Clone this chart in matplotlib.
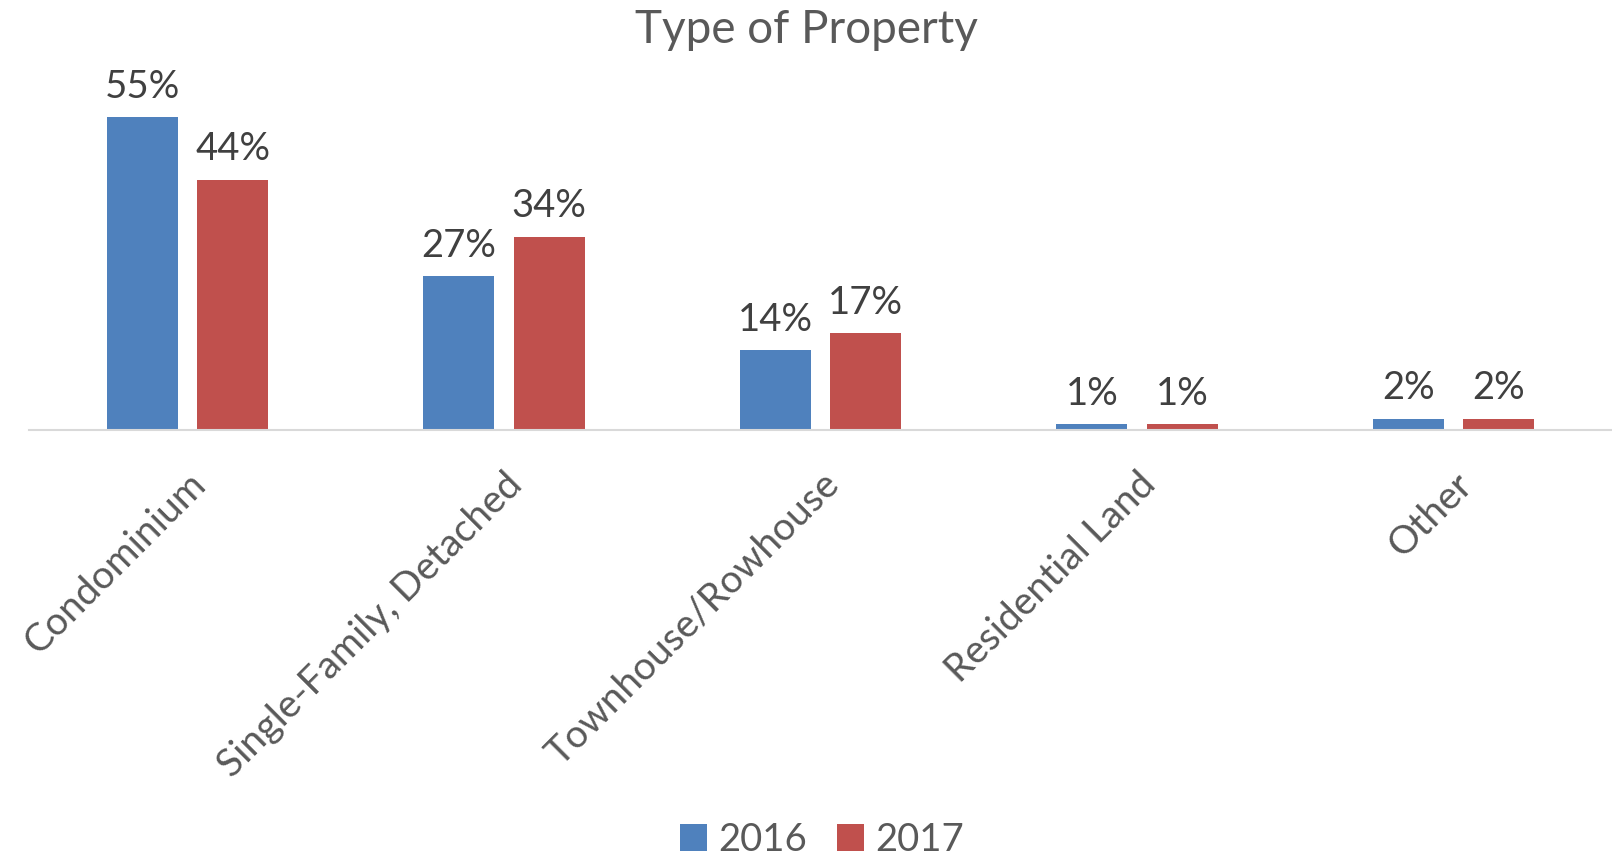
import numpy as np
import matplotlib.pyplot as plt

categories = ["Condominium", "Single-Family, Detached", "Townhouse/Rowhouse",
              "Residential Land", "Other"]
vals_2016 = [55, 27, 14, 1, 2]
vals_2017 = [44, 34, 17, 1, 2]
series = ["2016", "2017"]
colors = ["#4F81BD", "#C0504D"]

plt.rcParams["font.family"] = ["Lato", "DejaVu Sans"]

fig = plt.figure(figsize=(16.12, 8.56), dpi=100)
ax = fig.add_axes([0.018, 0.4977, 0.982, 0.3855])

x = np.arange(len(categories))
w = 0.224
gap = 0.0616
off = (w + gap) / 2

for vals, name, col, sgn in [(vals_2016, series[0], colors[0], -1),
                             (vals_2017, series[1], colors[1], 1)]:
    bars = ax.bar(x + sgn * off, vals, width=w, color=col, label=name)
    for b, v in zip(bars, vals):
        ax.annotate(f"{v}%", (b.get_x() + b.get_width() / 2, b.get_height()),
                    xytext=(0, 9), textcoords="offset points",
                    ha="center", va="bottom", fontsize=27.5, color="#404040")

ax.set_xlim(-0.5, len(categories) - 0.5)
ax.set_ylim(0, 58)
ax.set_yticks([])
for s in ["top", "right", "left"]:
    ax.spines[s].set_visible(False)
ax.spines["bottom"].set_color("#D9D9D9")
ax.spines["bottom"].set_linewidth(1.5)
ax.set_xticks(x)
ax.set_xticklabels(categories, rotation=45, ha="right", rotation_mode="anchor",
                   fontsize=28, color="#595959")
ax.tick_params(axis="x", length=0, pad=26)

fig.suptitle("Type of Property", fontsize=33, color="#595959", y=0.99)

fig.legend(loc="lower center", bbox_to_anchor=(0.51, -0.042), ncol=2, frameon=False,
           fontsize=27.5, handlelength=0.7, handleheight=0.7, handletextpad=0.3,
           columnspacing=0.8, labelcolor="#595959")

fig.savefig("out.png", dpi=100)
